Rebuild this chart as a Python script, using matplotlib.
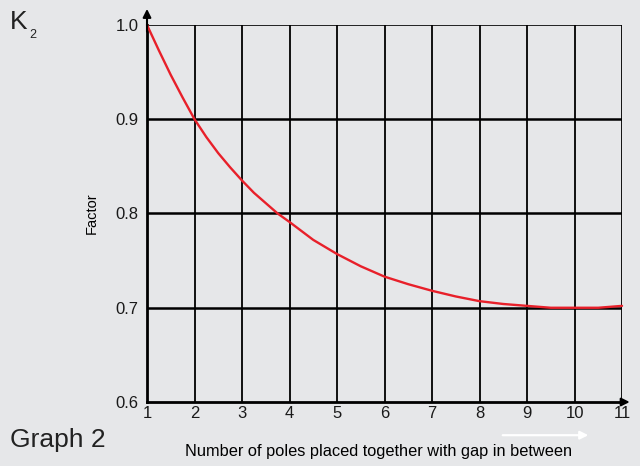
import matplotlib.pyplot as plt

# poles vs factor K2
poles = [1, 1.25, 1.5, 1.75, 2, 2.25, 2.5, 2.75, 3, 3.25, 3.5, 3.75, 4, 4.5, 5, 5.5,
         6, 6.5, 7, 7.5, 8, 8.5, 9, 9.5, 10, 10.5, 11]
factor = [1.0, 0.973, 0.947, 0.923, 0.900, 0.881, 0.864, 0.849, 0.835, 0.822, 0.811,
          0.800, 0.791, 0.772, 0.757, 0.744, 0.733, 0.725, 0.718, 0.712, 0.707,
          0.704, 0.702, 0.700, 0.700, 0.700, 0.702]
xticks = list(range(1, 12))
yticks = [0.6, 0.7, 0.8, 0.9, 1.0]

bg = "#e6e7e9"
plt.rcParams['font.family'] = ['Liberation Sans', 'DejaVu Sans']
fig = plt.figure(figsize=(6.4, 4.66), dpi=100)
fig.patch.set_facecolor(bg)
ax = fig.add_axes([0.2297, 0.1373, 0.7422, 0.8091])
ax.set_facecolor(bg)

ax.set_xlim(1, 11)
ax.set_ylim(0.6, 1.0)
ax.set_xticks(xticks)
ax.set_yticks(yticks)
ax.set_yticklabels(["%.1f" % v for v in yticks])
ax.tick_params(length=0, labelsize=12, colors="#1a1a1a")
ax.tick_params(axis="y", pad=6)
ax.tick_params(axis="x", pad=3)

for v in xticks[1:]:
    ax.axvline(v, color="black", lw=1.3, zorder=1)
for v in yticks[1:]:
    ax.axhline(v, color="black", lw=1.8 if v < 1.0 else 1.2, zorder=1)

for s in ["top", "right"]:
    ax.spines[s].set_visible(False)
ax.spines["left"].set_linewidth(2)
ax.spines["bottom"].set_linewidth(2)

ax.plot(poles, factor, color="#e8202a", lw=1.7, zorder=3, clip_on=False,
        solid_capstyle="round")

# axis arrows
ax.annotate("", xy=(1, 1.02), xytext=(1, 0.99),
            arrowprops=dict(arrowstyle="-|>", color="black", lw=1.5, mutation_scale=12),
            annotation_clip=False)
ax.annotate("", xy=(11.22, 0.6), xytext=(10.95, 0.6),
            arrowprops=dict(arrowstyle="-|>", color="black", lw=1.5, mutation_scale=12),
            annotation_clip=False)

ax.set_ylabel("Factor", fontsize=10.5, labelpad=12)
ax.set_xlabel("Number of poles placed together with gap in between", fontsize=11.8)
ax.xaxis.set_label_coords(0.487, -0.112)

# white arrow under the axis
ax.annotate("", xy=(0.935, -0.088), xytext=(0.743, -0.088), xycoords="axes fraction",
            arrowprops=dict(arrowstyle="-|>", color="white", lw=1.6, mutation_scale=12),
            annotation_clip=False)

fig.text(0.015, 0.952, "K", fontsize=19, color="#222222", va="center")
fig.text(0.046, 0.925, "2", fontsize=9, color="#222222", va="center")
fig.text(0.015, 0.055, "Graph 2", fontsize=19, color="#222222", va="center")

plt.savefig("out.png", dpi=100, facecolor=bg)
